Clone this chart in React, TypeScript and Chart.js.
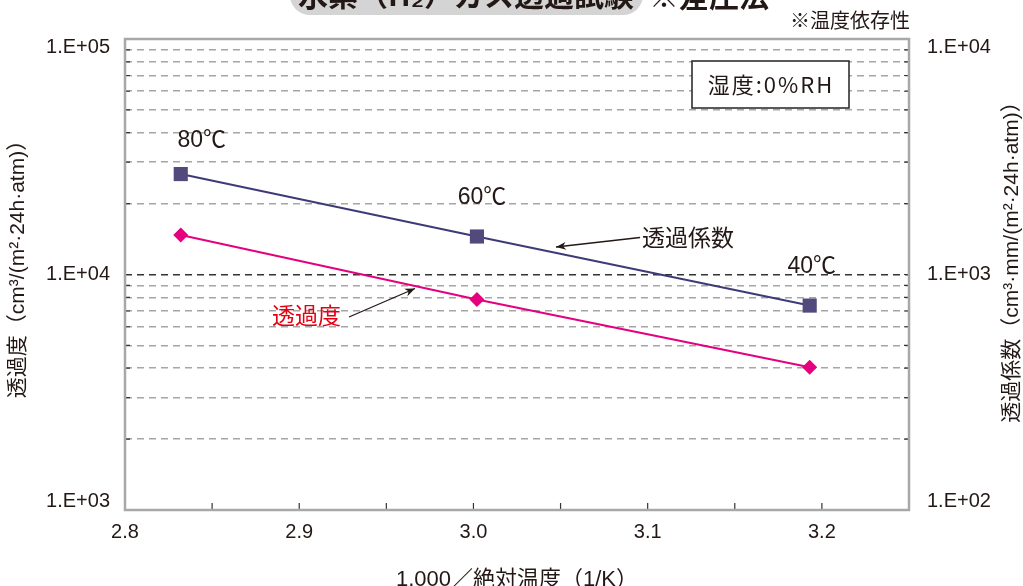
import { useEffect, useRef } from 'react';
import { Chart, registerables } from 'chart.js';

Chart.register(...registerables);

// ---- data ----
const temperatureLabels = ['80℃', '60℃', '40℃'];
const inverseTemperature = [2.832, 3.002, 3.193]; // 1000 / K
const permeance = [14700, 7830, 4040]; // 透過度 (left axis)
const permCoefficient = [2670, 1450, 738]; // 透過係数 (right axis)

const xTickValues = [2.8, 2.85, 2.9, 2.95, 3.0, 3.05, 3.1, 3.15, 3.2, 3.25];
const leftTickValues = [
  1000, 2000, 3000, 4000, 5000, 6000, 7000, 8000, 9000,
  10000, 20000, 30000, 40000, 50000, 60000, 70000, 80000, 90000, 100000,
];
const rightTickValues = [
  100, 200, 300, 400, 500, 600, 700, 800, 900,
  1000, 2000, 3000, 4000, 5000, 6000, 7000, 8000, 9000, 10000,
];

const TITLE_MAIN = '水素（H₂）ガス透過試験';
const TITLE_SUB = '※差圧法';
const NOTE = '※温度依存性';
const LEFT_TITLE = '透過度（cm³/(m²·24h·atm)）';
const RIGHT_TITLE = '透過係数（cm³·mm/(m²·24h·atm)）';
const X_TITLE = '1,000／絶対温度（1/K）';
const LEGEND_TEXT = '湿度:0%RH';
const LABEL_PERMEANCE = '透過度';
const LABEL_COEFF = '透過係数';

const INK = '#231815';
const PINK = '#e4007f';
const NAVY_LINE = '#3d3a78';
const NAVY_MARK = '#524a7c';
const RED_TEXT = '#e60012';
const LATIN = "'Liberation Sans', Arial, sans-serif";
const CJK = "'Noto Sans CJK JP', 'Liberation Sans', sans-serif";
const MIXED = "'Liberation Sans', 'Noto Sans CJK JP', sans-serif";

const isPow10 = (v: number) => Math.abs(Math.log10(v) - Math.round(Math.log10(v))) < 1e-9;
const expLabel = (v: number) => {
  if (!isPow10(v)) return '';
  const e = Math.round(Math.log10(v));
  return '1.E+' + String(e).padStart(2, '0');
};

function arrow(ctx: CanvasRenderingContext2D, x1: number, y1: number, x2: number, y2: number) {
  ctx.save();
  ctx.strokeStyle = INK;
  ctx.fillStyle = INK;
  ctx.lineWidth = 1.3;
  ctx.beginPath();
  ctx.moveTo(x1, y1);
  ctx.lineTo(x2, y2);
  ctx.stroke();
  const ang = Math.atan2(y2 - y1, x2 - x1);
  const len = 10;
  const wid = 4;
  ctx.beginPath();
  ctx.moveTo(x2, y2);
  ctx.lineTo(x2 - len * Math.cos(ang) + wid * Math.sin(ang), y2 - len * Math.sin(ang) - wid * Math.cos(ang));
  ctx.lineTo(x2 - len * 0.7 * Math.cos(ang), y2 - len * 0.7 * Math.sin(ang));
  ctx.lineTo(x2 - len * Math.cos(ang) - wid * Math.sin(ang), y2 - len * Math.sin(ang) + wid * Math.cos(ang));
  ctx.closePath();
  ctx.fill();
  ctx.restore();
}

const decorPlugin = {
  id: 'decor',
  beforeDraw(chart: any) {
    const { ctx, width, height } = chart;
    ctx.save();
    ctx.fillStyle = '#ffffff';
    ctx.fillRect(0, 0, width, height);
    ctx.restore();
  },
  afterDraw(chart: any) {
    const { ctx, chartArea: a } = chart;
    const xs = chart.scales.x;
    const yl = chart.scales.y;
    const yr = chart.scales.y1;
    ctx.save();

    // inner tick marks
    ctx.strokeStyle = '#333333';
    ctx.lineWidth = 1.2;
    ctx.beginPath();
    xTickValues.forEach((v) => {
      const px = xs.getPixelForValue(v);
      ctx.moveTo(px, a.bottom);
      ctx.lineTo(px, a.bottom - 7);
    });
    leftTickValues.forEach((v) => {
      const py = yl.getPixelForValue(v);
      ctx.moveTo(a.left, py);
      ctx.lineTo(a.left + 5, py);
    });
    rightTickValues.forEach((v) => {
      const py = yr.getPixelForValue(v);
      ctx.moveTo(a.right - 5, py);
      ctx.lineTo(a.right, py);
    });
    ctx.stroke();

    // frame
    ctx.strokeStyle = '#a8a8a8';
    ctx.lineWidth = 2.5;
    ctx.strokeRect(a.left, a.top, a.right - a.left, a.bottom - a.top);

    // y tick labels (edge labels pulled inside, as in the original)
    ctx.fillStyle = INK;
    ctx.font = `20px ${LATIN}`;
    ctx.textBaseline = 'middle';
    const labelY = (py: number) => {
      if (py <= a.top + 1) return py + 8;
      if (py >= a.bottom - 1) return py - 9;
      return py;
    };
    ctx.textAlign = 'right';
    leftTickValues.filter(isPow10).forEach((v) => {
      ctx.fillText(expLabel(v), a.left - 15, labelY(yl.getPixelForValue(v)));
    });
    ctx.textAlign = 'left';
    rightTickValues.filter(isPow10).forEach((v) => {
      ctx.fillText(expLabel(v), a.right + 18, labelY(yr.getPixelForValue(v)));
    });

    // title (cut off at top)
    ctx.fillStyle = '#d4d4d4';
    ctx.beginPath();
    ctx.roundRect(290, -40, 353, 55, 20);
    ctx.fill();
    ctx.fillStyle = INK;
    ctx.font = `bold 30px ${CJK}`;
    ctx.textAlign = 'center';
    ctx.textBaseline = 'ideographic';
    ctx.fillText(TITLE_MAIN, 466, 10);
    ctx.fillText(TITLE_SUB, 709, 11);

    // note
    ctx.font = `20px ${CJK}`;
    ctx.textBaseline = 'middle';
    ctx.fillText(NOTE, 850, 20);

    // axis titles
    ctx.font = `21px ${MIXED}`;
    ctx.save();
    ctx.translate(18, 264);
    ctx.rotate(-Math.PI / 2);
    ctx.fillText(LEFT_TITLE, 0, 0);
    ctx.restore();
    ctx.save();
    ctx.translate(1012, 257);
    ctx.rotate(-Math.PI / 2);
    ctx.fillText(RIGHT_TITLE, 0, 0);
    ctx.restore();
    ctx.font = `22px ${MIXED}`;
    ctx.fillText(X_TITLE, 517, 580);

    // temperature labels anchored to coefficient points
    const offsets = [[21, -33], [5, -39], [2, -39]];
    ctx.font = `23px ${MIXED}`;
    temperatureLabels.forEach((t, i) => {
      const px = xs.getPixelForValue(inverseTemperature[i]);
      const py = yr.getPixelForValue(permCoefficient[i]);
      ctx.fillText(t, px + offsets[i][0], py + offsets[i][1]);
    });

    // series labels with arrows
    ctx.font = `23px ${CJK}`;
    ctx.textAlign = 'left';
    ctx.fillStyle = INK;
    ctx.fillText(LABEL_COEFF, 642, 237);
    arrow(ctx, 640, 237.5, 556, 247);
    ctx.fillStyle = RED_TEXT;
    ctx.fillText(LABEL_PERMEANCE, 272, 315);
    arrow(ctx, 349, 317, 415, 288.5);

    // legend box
    ctx.fillStyle = '#ffffff';
    ctx.fillRect(692, 61, 157, 47);
    ctx.strokeStyle = '#222222';
    ctx.lineWidth = 1.5;
    ctx.strokeRect(692, 61, 157, 47);
    ctx.fillStyle = INK;
    ctx.font = `22px ${CJK}`;
    ctx.textAlign = 'center';
    (ctx as any).letterSpacing = '2px';
    ctx.fillText(LEGEND_TEXT, 771, 85);
    (ctx as any).letterSpacing = '0px';

    ctx.restore();
  },
};

export default function App() {
  const canvasRef = useRef<HTMLCanvasElement | null>(null);

  useEffect(() => {
    if (!canvasRef.current) return;
    const tickFont = { family: LATIN, size: 20 };
    const chart = new Chart(canvasRef.current, {
      type: 'line',
      data: {
        datasets: [
          {
            label: LABEL_PERMEANCE,
            data: inverseTemperature.map((x, i) => ({ x, y: permeance[i] })),
            yAxisID: 'y',
            borderColor: PINK,
            backgroundColor: PINK,
            pointBackgroundColor: PINK,
            pointBorderColor: PINK,
            pointStyle: 'rectRot',
            pointRadius: 7.5,
            pointBorderWidth: 0,
            borderWidth: 2,
            tension: 0,
          },
          {
            label: LABEL_COEFF,
            data: inverseTemperature.map((x, i) => ({ x, y: permCoefficient[i] })),
            yAxisID: 'y1',
            borderColor: NAVY_LINE,
            backgroundColor: NAVY_MARK,
            pointBackgroundColor: NAVY_MARK,
            pointBorderColor: NAVY_MARK,
            pointStyle: 'rect',
            pointRadius: 10,
            pointBorderWidth: 0,
            borderWidth: 2,
            tension: 0,
          },
        ],
      },
      options: {
        animation: false,
        responsive: true,
        maintainAspectRatio: false,
        layout: { padding: { top: 39, left: 0, right: 0, bottom: 0 } },
        plugins: {
          legend: { display: false },
          tooltip: { enabled: false },
          title: { display: false },
        },
        scales: {
          x: {
            type: 'linear',
            min: 2.8,
            max: 3.25,
            afterBuildTicks: (scale: any) => {
              scale.ticks = xTickValues.map((value) => ({ value }));
            },
            afterFit: (scale: any) => {
              scale.height = 76;
            },
            ticks: {
              autoSkip: false,
              maxRotation: 0,
              padding: 10,
              color: INK,
              font: tickFont,
              callback: (v: any) => {
                const n = Number(v);
                return Math.round(n * 100) % 10 === 0 ? n.toFixed(1) : '';
              },
            },
            grid: { display: false, drawTicks: false },
            border: { display: false },
          },
          y: {
            type: 'logarithmic',
            position: 'left',
            min: 1000,
            max: 100000,
            afterBuildTicks: (scale: any) => {
              scale.ticks = leftTickValues.map((value) => ({ value }));
            },
            afterFit: (scale: any) => {
              scale.width = 125;
            },
            ticks: { display: false, autoSkip: false },
            grid: {
              drawTicks: false,
              lineWidth: 1.5,
              color: (c: any) => (c.tick && c.tick.value === 10000 ? '#333333' : '#a6a6a6'),
              borderDash: [7, 5],
            } as any,
            border: { display: false, dash: [7, 5] },
          },
          y1: {
            type: 'logarithmic',
            position: 'right',
            min: 100,
            max: 10000,
            afterBuildTicks: (scale: any) => {
              scale.ticks = rightTickValues.map((value) => ({ value }));
            },
            afterFit: (scale: any) => {
              scale.width = 114;
            },
            ticks: { display: false, autoSkip: false },
            grid: { display: false, drawTicks: false },
            border: { display: false },
          },
        },
      } as any,
      plugins: [decorPlugin],
    });
    return () => chart.destroy();
  }, []);

  return (
    <div style={{ position: 'fixed', left: 0, top: 0, width: 1023, height: 586, background: '#fff' }}>
      <canvas ref={canvasRef} />
    </div>
  );
}
